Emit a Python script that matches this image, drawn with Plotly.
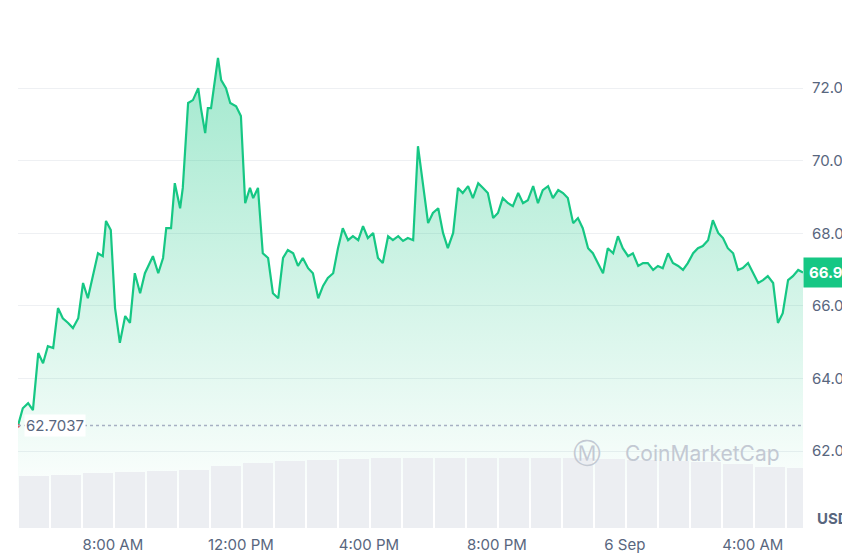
import plotly.graph_objects as go
import pandas as pd

start = pd.Timestamp("2024-09-05 05:02")
minutes = [0,9,19,28,38,47,56,66,75,84,94,103,113,122,131,141,150,159,
 165,174,182,191,201,210,219,229,238,253,263,272,278,287,294,304,309,
 319,328,338,343,351,356,362,369,375,381,390,398,409,418,426,435,441,
 450,459,469,478,488,497,506,516,525,534,544,553,563,572,581,591,600,609,619,628,638,647,656,666,675,684,694,703,713,722,731,741,750,759,769,778,788,797,806,816,825,834,844,853,863,872,881,891,900,909,919,928,938,947,956,966,975,984,994,1003,1013,1022,1031,1041,1050,1059,1069,1078,1088,1097,1106,1116,1125,1134,1144,1153,1163,1172,1181,1191,1200,1209,1219,1228,1238,1247,1256,1266,1275,1284,1294,1303,1313,1322,1331,1341,1350,1359,1369,1378,1388,1397,1406,1416,1425,1434,1444,1453,1463,1472]
prices = [62.70,63.18,63.32,63.13,64.70,64.42,64.89,64.84,65.94,65.66,65.53,65.39,65.66,66.63,66.21,66.90,67.45,67.37,
 68.34,68.09,65.94,64.98,65.72,65.53,66.90,66.35,66.90,67.37,66.90,67.32,68.14,68.14,69.38,68.69,69.25,
 71.59,71.67,72.00,71.45,70.76,71.45,71.45,72.14,72.83,72.22,72.00,71.59,71.50,71.23,68.83,69.25,68.97,
 69.25,67.45,67.32,66.35,66.21,67.32,67.54,67.45,67.10,67.32,67.04,66.90,66.21,66.55,66.77,66.90,67.59,68.14,67.81,67.92,67.81,68.20,67.87,68.01,67.32,67.18,67.92,67.81,67.92,67.79,67.87,67.81,70.40,69.38,68.28,68.56,68.69,68.01,67.59,68.01,69.25,69.11,69.30,68.97,69.38,69.25,69.11,68.42,68.56,68.97,68.83,68.75,69.11,68.83,68.91,69.30,68.83,69.19,69.30,68.97,69.19,69.11,68.97,68.28,68.42,68.14,67.59,67.45,67.18,66.90,67.59,67.45,67.92,67.59,67.37,67.45,67.10,67.18,67.18,66.99,67.10,67.04,67.45,67.18,67.10,66.99,67.18,67.45,67.59,67.65,67.81,68.36,68.01,67.87,67.59,67.45,66.99,67.04,67.18,66.90,66.63,66.71,66.82,66.63,65.53,65.80,66.71,66.82,66.99,66.92]
volumes = [52,53,55,56,57,58,62,65,67,68,69,70,70,70,70,70,70,70,69,68,67,66,64,61,60]
open_price = 62.7037
last_label = "66.9"
y_ticks = [62, 64, 66, 68, 70, 72]

times = [start + pd.Timedelta(minutes=m) for m in minutes]
vol_times = [start + pd.Timedelta(minutes=30 + 60 * i) for i in range(len(volumes))]
end = times[-1]

fig = go.Figure()
fig.add_trace(go.Bar(x=vol_times, y=volumes, yaxis="y2", marker=dict(color="#eceef2", line=dict(width=0)),
                     width=3.45e6, hoverinfo="skip"))
fig.add_trace(go.Scatter(x=times, y=prices, mode="lines", line=dict(color="#16c784", width=2.2),
                         fill="tozeroy",
                         fillgradient=dict(type="vertical", start=60.5, stop=72.8,
                                           colorscale=[[0, "rgba(22,199,132,0)"], [1, "rgba(22,199,132,0.4)"]]),
                         hoverinfo="skip"))
fig.add_trace(go.Scatter(x=[times[0]], y=[prices[0]], mode="markers",
                         marker=dict(color="#ea3943", size=4), hoverinfo="skip"))

fig.add_hline(y=open_price, line=dict(color="#a6b0c3", width=1.3, dash="dot"))
fig.add_annotation(x=0.008, xref="paper", y=open_price, yref="y", text="62.7037", showarrow=False,
                   xanchor="left", bgcolor="white", font=dict(size=15, color="#58667e", family="Inter"))
fig.add_annotation(x=1.0, xref="paper", y=prices[-1], yref="y", text="<b>" + last_label + "</b>", showarrow=False,
                   xanchor="left", xshift=0, bgcolor="#16c784", borderpad=5,
                   font=dict(size=15, color="white", family="Inter"))
fig.add_annotation(x=1.0, xref="paper", y=0, yref="paper", text="<b>USD</b>", showarrow=False,
                   xanchor="left", yanchor="bottom", xshift=12, yshift=-2,
                   font=dict(size=15, color="#58667e", family="Inter"))
fig.add_annotation(x=0.973, xref="paper", y=61.93, yref="y", text="CoinMarketCap", showarrow=False,
                   xanchor="right", font=dict(size=21, color="#c3c9d3", family="Inter"))
fig.add_annotation(x=0.725, xref="paper", y=61.93, yref="y", text="Ⓜ", showarrow=False,
                   xanchor="center", font=dict(size=28, color="#c3c9d3", family="DejaVu Sans"))

fig.update_layout(
    width=850, height=553, margin=dict(l=10, r=55, t=5, b=33, autoexpand=False),
    paper_bgcolor="white", plot_bgcolor="white", showlegend=False, bargap=0,
    font=dict(family="Inter", color="#58667e", size=15),
    xaxis=dict(range=[start, end], showgrid=False, zeroline=False, showline=False, automargin=False,
               tickvals=[pd.Timestamp("2024-09-05 08:00"), pd.Timestamp("2024-09-05 12:00"),
                         pd.Timestamp("2024-09-05 16:00"), pd.Timestamp("2024-09-05 20:00"),
                         pd.Timestamp("2024-09-06 00:00"), pd.Timestamp("2024-09-06 04:00")],
               ticktext=["8:00 AM", "12:00 PM", "4:00 PM", "8:00 PM", "6 Sep", "4:00 AM"],
               ticklen=0, ticklabelstandoff=6),
    yaxis=dict(side="right", range=[59.88, 74.07], tickvals=y_ticks, tickformat=".1f", automargin=False,
               gridcolor="#eef0f3", zeroline=False, showline=False, ticklabelstandoff=8),
    yaxis2=dict(overlaying="y", range=[0, 515], visible=False, fixedrange=True, automargin=False),
)
fig.write_html("out.html")
